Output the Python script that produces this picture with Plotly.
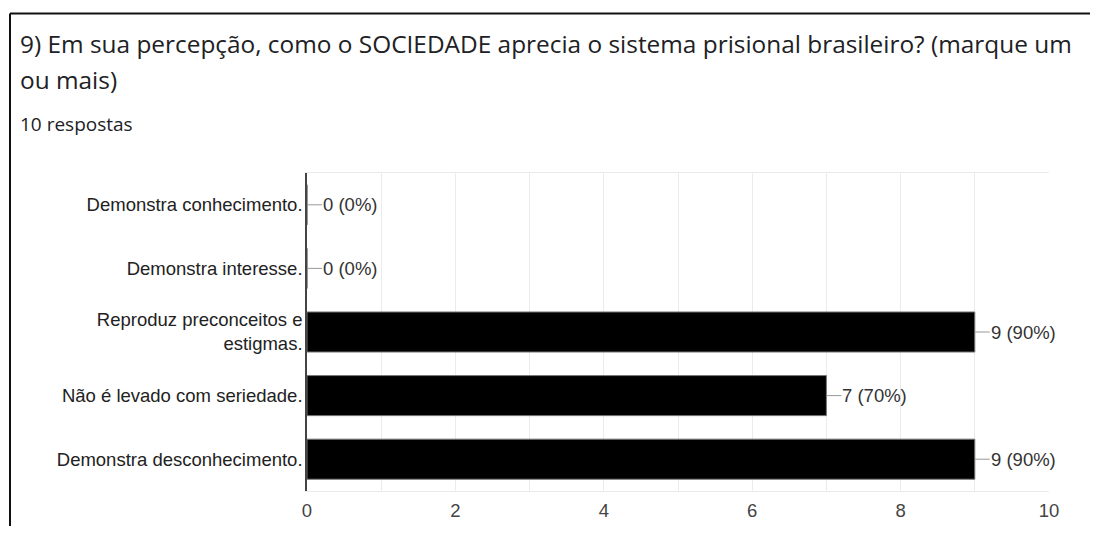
import plotly.graph_objects as go

categorias = ['Demonstra conhecimento.', 'Demonstra interesse.',
              'Reproduz preconceitos e<br>estigmas.', 'Não é levado com seriedade.',
              'Demonstra desconhecimento.']
respostas = [0, 0, 9, 7, 9]
total = 10
rotulos = ['%d (%d%%)' % (v, round(v * 100 / total)) for v in respostas]
ticks_x = [0, 2, 4, 6, 8, 10]

# o body da pagina tem margem de 8px: o grafico fica em (8, 8) e cabe na janela
OFF = 8
W, H = 1098 - 2 * OFF, 534 - 2 * OFF
fonte_graf = 'Liberation Sans, Arial, sans-serif'
fonte_tit = 'Open Sans, sans-serif'


def px(x):
    return (x - OFF) / W


def py(y):
    return 1 - (y - OFF) / H


fig = go.Figure()
fig.add_trace(go.Bar(
    x=respostas, y=categorias, orientation='h',
    marker=dict(color='black', line=dict(color='#777', width=1)),
    hoverinfo='skip'))

# rotulos com linha guia
for v, c, t in zip(respostas, categorias, rotulos):
    fig.add_annotation(x=v, y=c, xref='x', yref='y', text=t,
                       showarrow=True, arrowhead=0, arrowwidth=1, arrowcolor='#999',
                       ax=15, ay=0, xanchor='left', borderpad=0,
                       font=dict(family=fonte_graf, size=18.5, color='#333'))

# titulo
fig.add_annotation(x=px(18), y=py(44), xref='paper', yref='paper', showarrow=False,
                   xanchor='left', yanchor='middle',
                   text='9) Em sua percepção, como o SOCIEDADE aprecia o sistema prisional brasileiro? (marque um',
                   font=dict(family=fonte_tit, size=24.4, color='#202124'))
fig.add_annotation(x=px(18), y=py(79), xref='paper', yref='paper', showarrow=False,
                   xanchor='left', yanchor='middle', text='ou mais)',
                   font=dict(family=fonte_tit, size=24.4, color='#202124'))
fig.add_annotation(x=px(18), y=py(124), xref='paper', yref='paper', showarrow=False,
                   xanchor='left', yanchor='middle', text='10 respostas',
                   font=dict(family=fonte_tit, size=19, color='#202124'))

# moldura do print
fig.add_shape(type='line', xref='paper', yref='paper', x0=px(10), x1=1.01,
              y0=py(13.5), y1=py(13.5), line=dict(color='#111', width=2))
fig.add_shape(type='line', xref='paper', yref='paper', x0=px(10), x1=px(10),
              y0=py(13.5), y1=-0.01, line=dict(color='#111', width=2))

fig.update_layout(
    width=W, height=H,
    margin=dict(l=0, r=0, t=0, b=0),
    paper_bgcolor='white', plot_bgcolor='white',
    showlegend=False, bargap=0.37,
    xaxis=dict(domain=[px(307), px(1049)], range=[0, 10], tickvals=ticks_x,
               automargin=False,
               showgrid=True, gridcolor='#ebebeb', zeroline=False,
               minor=dict(dtick=1, showgrid=True, gridcolor='#ebebeb'),
               showline=True, mirror=True, linecolor='#ebebeb', linewidth=1,
               ticks='', ticklabelstandoff=3,
               tickfont=dict(family=fonte_graf, size=18.5, color='#444')),
    yaxis=dict(domain=[py(491), py(173)], autorange='reversed', automargin=False,
               showline=True, linecolor='#444', linewidth=1.5, showgrid=False,
               ticks='', ticklabelstandoff=-1,
               tickfont=dict(family=fonte_graf, size=18.5, color='#222')),
)

fig.write_html('out.html')
